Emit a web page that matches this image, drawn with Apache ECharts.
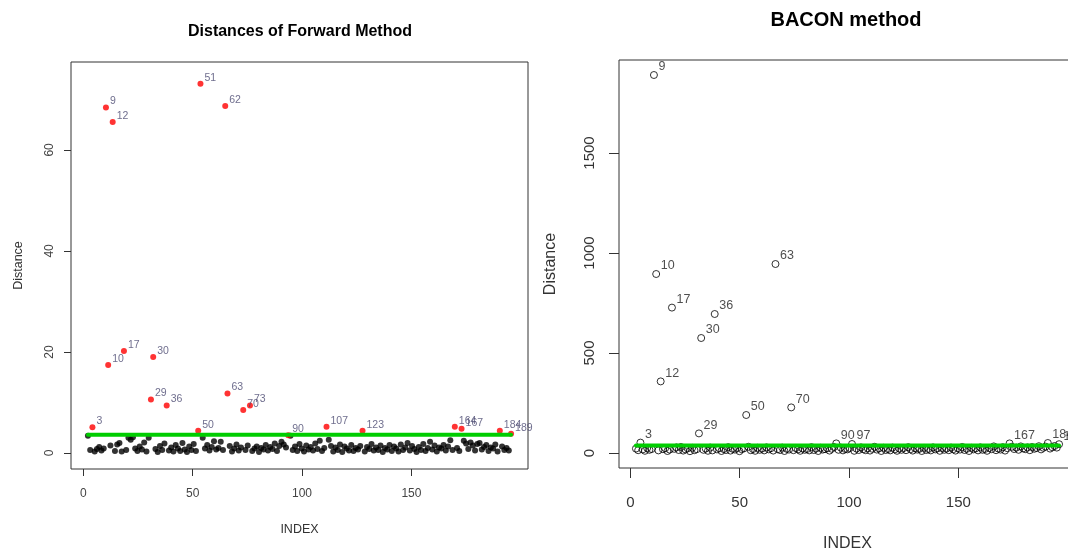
<!DOCTYPE html>
<html>
<head>
<meta charset="utf-8">
<script src="https://cdn.jsdelivr.net/npm/echarts@6/dist/echarts.min.js"></script>
<style>
  html, body { margin: 0; padding: 0; background: #fff; }
  #main { width: 1068px; height: 552px; }
</style>
</head>
<body>
<div id="main"></div>
<script>
// forward method distances, index 1..189
const forwardDist = [
  3.4, 0.6, 5.1, 0.3, 0.8, 1.2, 0.5, 0.9, 68.4, 17.4,
  1.5, 65.5, 0.4, 1.7, 2.0, 0.3, 20.2, 0.6, 3.0, 2.6,
  3.1, 0.9, 0.4, 1.3, 0.7, 2.1, 0.3, 3.0, 10.6, 19.0,
  0.8, 0.2, 1.4, 0.6, 1.9, 9.4, 0.5, 1.1, 0.3, 1.6,
  0.9, 0.4, 2.0, 0.7, 0.2, 1.3, 0.6, 1.8, 0.4, 4.4,
  73.1, 3.0, 0.9, 1.6, 0.5, 1.2, 2.3, 0.7, 1.0, 2.2,
  0.6, 68.7, 11.8, 1.4, 0.3, 0.9, 1.7, 0.5, 1.1, 8.5,
  0.6, 1.5, 9.4, 0.4, 0.9, 1.3, 0.2, 1.0, 0.7, 1.6,
  0.5, 1.2, 0.8, 1.9, 0.4, 1.4, 2.2, 1.7, 1.1, 3.5,
  3.4, 0.6, 1.3, 0.4, 1.8, 0.9, 0.3, 1.5, 0.7, 1.2,
  0.5, 1.9, 0.8, 2.4, 0.4, 1.0, 5.2, 2.6, 1.4, 0.3,
  1.1, 0.6, 1.7, 0.2, 1.3, 0.9, 0.5, 1.6, 0.4, 1.0,
  0.7, 1.4, 4.4, 0.3, 1.2, 0.8, 1.8, 0.5, 1.1, 0.6,
  1.5, 0.2, 1.0, 0.7, 1.6, 0.4, 1.3, 0.9, 0.3, 1.7,
  0.6, 1.1, 2.0, 0.5, 1.4, 0.8, 0.2, 1.2, 0.6, 1.8,
  0.4, 1.0, 2.2, 0.7, 1.5, 0.3, 1.1, 0.9, 1.6, 0.5,
  1.3, 2.5, 0.6, 5.2, 1.0, 0.4, 4.8, 2.4, 1.9, 0.8,
  2.1, 1.5, 0.5, 1.8, 2.0, 0.7, 1.2, 1.6, 0.4, 1.1,
  0.9, 1.7, 0.3, 4.4, 1.3, 0.6, 1.0, 0.5, 3.8
]
const forwardOutliers = [3, 9, 10, 12, 17, 29, 30, 36, 50, 51, 62, 63, 70, 73, 90, 107, 123, 164, 167, 184, 189]
const forwardCutoff = 3.6

// BACON distances, index 1..189
const baconDist = [
  22, 14, 52, 18, 11, 25, 16, 20, 1890, 895,
  13, 358, 19, 24, 10, 17, 727, 21, 28, 15,
  30, 12, 18, 23, 9, 26, 14, 19, 98, 575,
  16, 22, 11, 27, 13, 695, 18, 24, 10, 20,
  15, 29, 12, 21, 17, 25, 9, 19, 23, 190,
  31, 14, 20, 11, 26, 16, 22, 13, 28, 18,
  24, 12, 945, 19, 15, 27, 10, 21, 17, 228,
  14, 25, 18, 11, 23, 16, 20, 13, 29, 15,
  22, 10, 26, 17, 19, 24, 12, 21, 30, 48,
  16, 27, 13, 20, 18, 25, 45, 11, 22, 15,
  28, 19, 14, 24, 12, 21, 31, 17, 23, 10,
  26, 15, 20, 13, 27, 18, 11, 22, 16, 25,
  14, 29, 19, 12, 24, 17, 21, 10, 26, 15,
  20, 13, 28, 18, 23, 11, 25, 16, 22, 14,
  27, 19, 12, 24, 17, 30, 15, 21, 10, 26,
  18, 23, 13, 28, 16, 20, 11, 25, 19, 33,
  14, 22, 17, 29, 12, 24, 48, 31, 20, 27,
  16, 33, 23, 19, 28, 14, 30, 21, 25, 34,
  18, 26, 32, 50, 22, 29, 35, 27, 44
]
const baconOutliers = [3, 9, 10, 12, 17, 29, 30, 36, 50, 63, 70, 90, 97, 167, 184, 189]
const baconCutoff = 38

// tick labels
const xTicks = [0, 50, 100, 150]
const forwardTicks = [0, 20, 40, 60]
const baconTicks = [0, 500, 1000, 1500]

const FONT = 'Liberation Sans, Arial, sans-serif'
const n = forwardDist.length

// split points into normal / outlier
function toPoints (arr, pick) {
  const res = []
  arr.forEach((v, i) => {
    if (pick(i + 1)) res.push({ value: [i + 1, v], name: String(i + 1) })
  })
  return res
}

const chart = echarts.init(document.getElementById('main'), null, { renderer: 'canvas' })

const tickStyle = (len, ticks) => ({ show: true, inside: false, length: len, customValues: ticks, lineStyle: { color: '#333', width: 1 } })
const noLine = { show: false, onZero: false }
const plain = v => String(v)

const option = {
  animation: false,
  backgroundColor: '#fff',
  title: [
    {
      text: 'Distances of Forward Method',
      left: 295,
      top: 19,
      textAlign: 'center',
      textStyle: { fontFamily: FONT, fontWeight: 'bold', fontSize: 16, color: '#000' }
    },
    {
      text: 'BACON method',
      left: 841,
      top: 5,
      textAlign: 'center',
      textStyle: { fontFamily: FONT, fontWeight: 'bold', fontSize: 20, color: '#000' }
    }
  ],
  grid: [
    { left: 71, top: 62, width: 457, height: 407, show: true, borderColor: '#333', borderWidth: 1, containLabel: false, outerBoundsMode: 'none' },
    { left: 619, top: 60, width: 457, height: 408, show: true, borderColor: '#333', borderWidth: 1, containLabel: false, outerBoundsMode: 'none' }
  ],
  xAxis: [
    // visible axis, left
    {
      type: 'value', gridIndex: 0, min: -5.6, max: 203.3,
      splitLine: { show: false }, axisLine: noLine,
      axisTick: tickStyle(7, xTicks),
      axisLabel: { customValues: xTicks, formatter: plain, margin: 19, fontFamily: FONT, fontSize: 12, color: '#444' },
      name: 'INDEX', nameLocation: 'middle', nameGap: 54, nameMoveOverlap: false,
      nameTextStyle: { fontFamily: FONT, fontSize: 12.5, color: '#333' }
    },
    // index scale for the points, left
    { type: 'value', gridIndex: 0, min: 1 - 0.04 * (n - 1), max: n + 0.04 * (n - 1), show: false, axisLine: noLine },
    // visible axis, right
    {
      type: 'value', gridIndex: 1, min: -5.2, max: 203.8,
      splitLine: { show: false }, axisLine: noLine,
      axisTick: tickStyle(10, xTicks),
      axisLabel: { customValues: xTicks, formatter: plain, margin: 27, fontFamily: FONT, fontSize: 15, color: '#333' },
      name: 'INDEX', nameLocation: 'middle', nameGap: 68, nameMoveOverlap: false,
      nameTextStyle: { fontFamily: FONT, fontSize: 16, color: '#333' }
    },
    // index scale for the points, right
    { type: 'value', gridIndex: 1, min: 1 - 0.04 * (n - 1), max: n + 0.04 * (n - 1), show: false, axisLine: noLine }
  ],
  yAxis: [
    {
      type: 'value', gridIndex: 0, min: -3.17, max: 77.4,
      splitLine: { show: false }, axisLine: noLine,
      axisTick: tickStyle(7, forwardTicks),
      axisLabel: { customValues: forwardTicks, formatter: plain, rotate: 90, margin: 15, fontFamily: FONT, fontSize: 12, color: '#444' },
      name: 'Distance', nameLocation: 'middle', nameGap: 46, nameMoveOverlap: false,
      nameTextStyle: { fontFamily: FONT, fontSize: 12.5, color: '#333' }
    },
    {
      type: 'value', gridIndex: 1, min: -75, max: 1965,
      splitLine: { show: false }, axisLine: noLine,
      axisTick: tickStyle(10, baconTicks),
      axisLabel: { customValues: baconTicks, formatter: plain, rotate: 90, margin: 22, fontFamily: FONT, fontSize: 15, color: '#333' },
      name: 'Distance', nameLocation: 'middle', nameGap: 60, nameMoveOverlap: false,
      nameTextStyle: { fontFamily: FONT, fontSize: 16, color: '#333' }
    }
  ],
  series: [
    // 左图: normal points
    {
      type: 'scatter', xAxisIndex: 1, yAxisIndex: 0,
      symbolSize: 6,
      itemStyle: { color: '#000' },
      data: toPoints(forwardDist, i => forwardOutliers.indexOf(i) < 0)
    },
    // 左图: outliers in red
    {
      type: 'scatter', xAxisIndex: 1, yAxisIndex: 0,
      symbolSize: 6,
      itemStyle: { color: '#ff0000' },
      label: {
        show: true, position: 'right', distance: 1, offset: [0, -6],
        formatter: '{b}', fontFamily: FONT, fontSize: 10.5, color: '#4a4870'
      },
      data: toPoints(forwardDist, i => forwardOutliers.indexOf(i) >= 0)
    },
    // cutoff line
    {
      type: 'line', xAxisIndex: 1, yAxisIndex: 0,
      symbol: 'none', z: 5,
      lineStyle: { color: '#00cd00', width: 4, cap: 'round' },
      data: [[1, forwardCutoff], [n, forwardCutoff]]
    },
    // 右图: all points, open circles
    {
      type: 'scatter', xAxisIndex: 3, yAxisIndex: 1,
      symbolSize: 7,
      itemStyle: { color: 'transparent', borderColor: '#000', borderWidth: 1 },
      data: toPoints(baconDist, () => true)
    },
    // 右图: labels for outliers
    {
      type: 'scatter', xAxisIndex: 3, yAxisIndex: 1,
      symbolSize: 7,
      itemStyle: { color: 'transparent', borderWidth: 0 },
      label: {
        show: true, position: 'right', distance: 1, offset: [0, -8],
        formatter: '{b}', fontFamily: FONT, fontSize: 12.5, color: '#222'
      },
      data: toPoints(baconDist, i => baconOutliers.indexOf(i) >= 0)
    },
    {
      type: 'line', xAxisIndex: 3, yAxisIndex: 1,
      symbol: 'none', z: 5,
      lineStyle: { color: '#00cd00', width: 4, cap: 'round' },
      data: [[1, baconCutoff], [n, baconCutoff]]
    }
  ]
}

chart.setOption(option)
</script>
</body>
</html>
